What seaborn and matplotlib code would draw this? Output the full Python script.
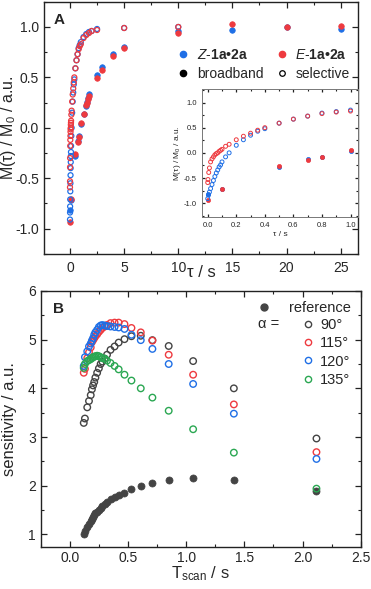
import matplotlib
matplotlib.use("Agg")
from matplotlib import pyplot as plt
from matplotlib.lines import Line2D
from matplotlib.ticker import MultipleLocator
import pandas as pd
import seaborn as sns

# Panel A: recovery curves, broadband (filled) and selective (open)
bb_tau = [0, 0.1, 0.5, 0.7, 0.8, 1.0, 1.25, 1.5, 1.6, 1.7, 1.8, 2.5, 3, 4, 5, 10, 15, 20, 25]
bb_z = [-0.82, -0.72, -0.28, -0.13, -0.08, 0.04, 0.14, 0.22, 0.26, 0.30, 0.34,
        0.52, 0.60, 0.73, 0.80, 0.96, 0.97, 1.00, 0.98]
bb_e = [-0.93, -0.71, -0.26, -0.14, -0.09, 0.05, 0.14, 0.23, 0.25, 0.29, 0.32,
        0.49, 0.57, 0.71, 0.79, 0.94, 1.03, 1.00, 1.01]

sel_tau_z = [0, 0.005, 0.012, 0.02, 0.03, 0.04, 0.05, 0.06, 0.07, 0.08, 0.09, 0.1,
             0.125, 0.15, 0.2, 0.25, 0.3, 0.35, 0.4, 0.5, 0.6, 0.7, 0.8, 0.9, 1.0,
             1.25, 1.5, 1.75, 2.0, 2.5, 5, 10]
sel_z = [-0.91, -0.84, -0.78, -0.71, -0.63, -0.55, -0.47, -0.40, -0.34, -0.28, -0.24,
         -0.18, -0.08, 0.00, 0.15, 0.26, 0.35, 0.43, 0.48, 0.59, 0.67, 0.73, 0.79,
         0.82, 0.85, 0.90, 0.93, 0.95, 0.96, 0.98, 0.99, 1.00]
sel_tau_e = [0, 0.002, 0.007, 0.012, 0.02, 0.03, 0.04, 0.05, 0.06, 0.07, 0.08, 0.09,
             0.1, 0.125, 0.15, 0.2, 0.25, 0.3, 0.35, 0.4, 0.5, 0.6, 0.7, 0.8, 0.9,
             1.0, 1.25, 1.5, 1.75, 2.0, 2.5, 5, 10]
sel_e = [-0.59, -0.53, -0.39, -0.30, -0.18, -0.12, -0.08, -0.04, -0.015, 0.00, 0.03,
         0.05, 0.07, 0.13, 0.17, 0.26, 0.33, 0.39, 0.45, 0.50, 0.59, 0.67, 0.73,
         0.78, 0.81, 0.83, 0.89, 0.92, 0.94, 0.96, 0.97, 0.99, 1.00]

# Panel B: sensitivity vs scan time
tscan = [0.12, 0.13, 0.15, 0.165, 0.18, 0.19, 0.20, 0.21, 0.22, 0.235, 0.25, 0.265,
         0.28, 0.30, 0.32, 0.35, 0.385, 0.42, 0.47, 0.53, 0.61, 0.71, 0.85, 1.06,
         1.41, 2.12]
sens_ref = [1.00, 1.07, 1.15, 1.22, 1.28, 1.32, 1.36, 1.40, 1.43, 1.47, 1.51, 1.55,
            1.59, 1.63, 1.67, 1.72, 1.77, 1.81, 1.86, 1.93, 1.99, 2.05, 2.11, 2.15,
            2.12, 1.89]
sens_90 = [3.29, 3.38, 3.61, 3.74, 3.86, 3.98, 4.06, 4.13, 4.22, 4.32, 4.41, 4.50,
           4.55, 4.61, 4.69, 4.79, 4.86, 4.94, 5.01, 5.07, 5.08, 4.99, 4.87, 4.56,
           4.00, 2.97]
sens_115 = [4.32, 4.40, 4.62, 4.74, 4.84, 4.95, 4.99, 5.03, 5.07, 5.11, 5.16, 5.20,
            5.24, 5.27, 5.30, 5.34, 5.35, 5.35, 5.32, 5.24, 5.15, 4.98, 4.69, 4.28,
            3.67, 2.69]
sens_120 = [4.46, 4.64, 4.76, 4.86, 4.92, 4.98, 5.03, 5.10, 5.15, 5.20, 5.26, 5.29,
            5.30, 5.29, 5.28, 5.27, 5.26, 5.25, 5.22, 5.10, 4.99, 4.81, 4.50, 4.09,
            3.48, 2.55]
sens_135 = [4.42, 4.50, 4.56, 4.58, 4.60, 4.62, 4.64, 4.65, 4.66, 4.67, 4.66, 4.64,
            4.62, 4.61, 4.57, 4.52, 4.46, 4.39, 4.28, 4.16, 4.00, 3.81, 3.54, 3.16,
            2.68, 1.94]
angle_labels = ["90°", "115°", "120°", "135°"]

BLUE = "#1f6fe6"
RED = "#ee3a3f"
GREEN = "#2aa752"
GRAY = "#444444"

sns.set_style("ticks")
plt.rcParams["font.family"] = ["Liberation Sans", "DejaVu Sans"]
plt.rcParams["mathtext.fontset"] = "custom"
plt.rcParams["mathtext.rm"] = "Liberation Sans"
plt.rcParams["mathtext.it"] = "Liberation Sans:italic"
plt.rcParams["mathtext.bf"] = "Liberation Sans:bold"
plt.rcParams["axes.linewidth"] = 1.0
plt.rcParams["axes.edgecolor"] = "#222222"


def style_axes(ax, fs=10, major=4, minor=2):
    ax.tick_params(which="both", direction="in", top=True, right=True,
                   labelsize=fs, color="#222222")
    ax.tick_params(which="major", length=major, width=0.9)
    ax.tick_params(which="minor", length=minor, width=0.8)


def filled(ax, x, y, c, s):
    sns.scatterplot(x=x, y=y, ax=ax, color=c, s=s, edgecolor=c, linewidth=0.5,
                    legend=False, zorder=3)


def hollow(ax, x, y, c, s, lw=1.0):
    sns.scatterplot(x=x, y=y, ax=ax, facecolor="none", edgecolor=c, s=s,
                    linewidth=lw, legend=False, zorder=4)


fig = plt.figure(figsize=(3.71, 5.89), dpi=100)
axA = fig.add_axes([0.1186, 0.569, 0.8464, 0.428])
axB = fig.add_axes([0.1097, 0.072, 0.8625, 0.434])
axI = fig.add_axes([0.5445, 0.632, 0.4195, 0.217])

# ---- panel A
for ax, s_f, s_o, lw in [(axA, 16, 13, 0.9), (axI, 9, 8, 0.7)]:
    filled(ax, bb_tau, bb_z, BLUE, s_f)
    filled(ax, bb_tau, bb_e, RED, s_f)
    hollow(ax, sel_tau_z, sel_z, BLUE, s_o, lw)
    hollow(ax, sel_tau_e, sel_e, RED, s_o, lw)

axA.set_xlim(-2.4, 26.6)
axA.set_ylim(-1.25, 1.25)
axA.xaxis.set_major_locator(MultipleLocator(5))
axA.xaxis.set_minor_locator(MultipleLocator(2.5))
axA.yaxis.set_major_locator(MultipleLocator(0.5))
axA.yaxis.set_minor_locator(MultipleLocator(0.25))
axA.yaxis.set_major_formatter(lambda v, p: f"{v:.1f}")
style_axes(axA)
axA.tick_params(axis="x", pad=5)
axA.set_xlabel("τ / s", fontsize=12, labelpad=-7)
axA.set_ylabel("M(τ) / M$_0$ / a.u.", fontsize=11.5, labelpad=-2)
axA.text(0.03, 0.955, "A", transform=axA.transAxes, fontsize=11,
         fontweight="bold", va="top")

handles = [
    Line2D([], [], ls="", marker="o", ms=4.5, color=BLUE),
    Line2D([], [], ls="", marker="o", ms=4.5, color="black"),
    Line2D([], [], ls="", marker="o", ms=4.5, color=RED),
    Line2D([], [], ls="", marker="o", ms=4, mfc="none", mec="black", mew=0.9),
]
labels = ["$\\mathit{Z}$-$\\mathbf{1a•2a}$", "broadband",
          "$\\mathit{E}$-$\\mathbf{1a•2a}$", "selective"]
axA.legend(handles, labels, ncol=2, loc="upper right", bbox_to_anchor=(1.0, 0.85),
           frameon=False, fontsize=10, handletextpad=0.4, columnspacing=0.7,
           handlelength=1.2, labelspacing=0.35, borderaxespad=0.2)

# ---- inset
axI.set_xlim(-0.04, 1.05)
axI.set_ylim(-1.27, 1.27)
axI.xaxis.set_major_locator(MultipleLocator(0.2))
axI.xaxis.set_minor_locator(MultipleLocator(0.1))
axI.yaxis.set_major_locator(MultipleLocator(0.5))
axI.yaxis.set_minor_locator(MultipleLocator(0.25))
axI.xaxis.set_major_formatter(lambda v, p: f"{v:.1f}")
axI.yaxis.set_major_formatter(lambda v, p: f"{v:.1f}")
style_axes(axI, fs=5.5, major=2.5, minor=1.3)
for sp in axI.spines.values():
    sp.set_linewidth(0.7)
    sp.set_color("#777777")
axI.set_xlabel("τ / s", fontsize=6, labelpad=2)
axI.set_ylabel("M(τ) / M$_0$ / a.u.", fontsize=6, labelpad=1)

# ---- panel B
filled(axB, tscan, sens_ref, GRAY, 26)
for vals, c in zip([sens_90, sens_115, sens_120, sens_135], [GRAY, RED, BLUE, GREEN]):
    hollow(axB, tscan, vals, c, 22, 1.0)

axB.set_xlim(-0.25, 2.5)
axB.set_ylim(0.75, 6.0)
axB.xaxis.set_major_locator(MultipleLocator(0.5))
axB.xaxis.set_minor_locator(MultipleLocator(0.25))
axB.yaxis.set_major_locator(MultipleLocator(1))
axB.yaxis.set_minor_locator(MultipleLocator(0.5))
axB.xaxis.set_major_formatter(lambda v, p: f"{v:.1f}")
style_axes(axB)
axB.set_xlabel("T$_{\\mathrm{scan}}$ / s", fontsize=12, labelpad=-1)
axB.set_ylabel("sensitivity / a.u.", fontsize=12, labelpad=8)
axB.text(0.04, 0.955, "B", transform=axB.transAxes, fontsize=11,
         fontweight="bold", va="top")

leg_ref = axB.legend([Line2D([], [], ls="", marker="o", ms=5, color=GRAY)],
                     ["reference"], loc="upper right", bbox_to_anchor=(1.0, 1.0),
                     frameon=False, fontsize=10.5, handletextpad=1.2,
                     handlelength=1.0, borderaxespad=0.3)
axB.add_artist(leg_ref)
ang_handles = [Line2D([], [], ls="", marker="o", ms=4.5, mfc="none", mec=c, mew=1.0)
               for c in [GRAY, RED, BLUE, GREEN]]
axB.legend(ang_handles, angle_labels, loc="upper right", bbox_to_anchor=(1.0, 0.935),
           frameon=False, fontsize=10.5, handletextpad=0.35, handlelength=1.0,
           labelspacing=0.3, borderaxespad=0.3)
axB.text(0.68, 0.872, "α =", transform=axB.transAxes, fontsize=10.5, va="center")

fig.savefig("out.png", dpi=100)
